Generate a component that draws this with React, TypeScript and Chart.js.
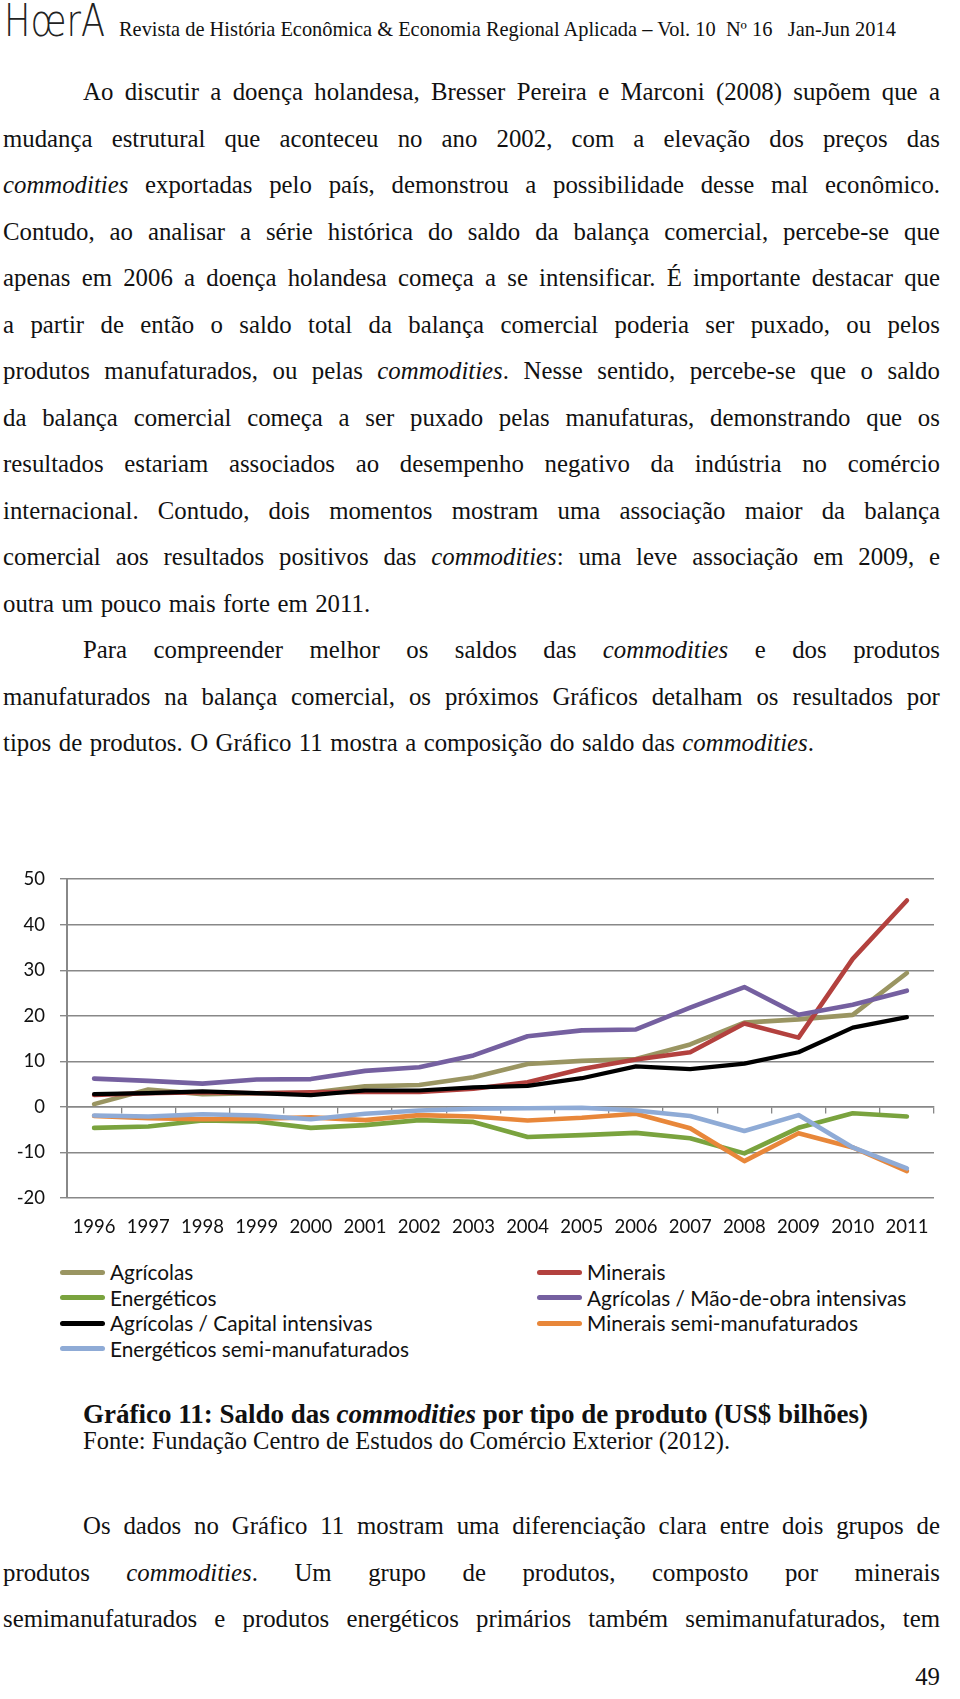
import React, { useEffect, useRef } from "react";
import { Chart, registerables } from "chart.js";

Chart.register(...registerables);

// ---------- DATA ----------
const years = ["1996", "1997", "1998", "1999", "2000", "2001", "2002", "2003", "2004", "2005", "2006", "2007", "2008", "2009", "2010", "2011"];

const agricolas = [0.6, 3.8, 2.8, 3.0, 3.1, 4.5, 4.8, 6.5, 9.4, 10.1, 10.5, 13.7, 18.5, 19.2, 20.2, 29.4];
const minerais = [2.6, 3.0, 3.2, 3.0, 3.2, 3.3, 3.3, 4.0, 5.4, 8.3, 10.4, 12.0, 18.3, 15.2, 32.5, 45.3];
const energeticos = [-4.6, -4.3, -3.0, -3.2, -4.6, -4.0, -2.9, -3.3, -6.6, -6.2, -5.7, -6.9, -10.2, -4.6, -1.4, -2.1];
const agricolasMaoDeObra = [6.2, 5.7, 5.1, 6.0, 6.1, 7.9, 8.7, 11.3, 15.5, 16.8, 17.0, 21.8, 26.3, 20.2, 22.4, 25.5];
const agricolasCapital = [2.8, 3.0, 3.4, 3.0, 2.6, 3.6, 3.6, 4.3, 4.6, 6.3, 8.9, 8.3, 9.5, 12.0, 17.4, 19.7];
const mineraisSemi = [-2.0, -2.5, -2.7, -2.6, -2.3, -2.9, -1.8, -2.1, -3.0, -2.4, -1.5, -4.7, -11.9, -5.8, -8.9, -14.1];
const energeticosSemi = [-1.9, -2.1, -1.6, -1.9, -2.7, -1.5, -0.8, -0.4, -0.3, -0.2, -0.8, -2.0, -5.3, -1.8, -8.9, -13.5];

const seriesNames = [
  "Agrícolas",
  "Minerais",
  "Energéticos",
  "Agrícolas / Mão-de-obra intensivas",
  "Agrícolas / Capital intensivas",
  "Minerais semi-manufaturados",
  "Energéticos semi-manufaturados",
];
const seriesData = [agricolas, minerais, energeticos, agricolasMaoDeObra, agricolasCapital, mineraisSemi, energeticosSemi];
const seriesColors = ["#9a9562", "#b3413e", "#7aa33e", "#7560a0", "#000000", "#e8873a", "#8fabd6"];

const yTicks = { min: -20, max: 50, step: 10 };

// ---------- TEXT ----------
const para1 = [
  "Ao discutir a doença holandesa, Bresser Pereira e Marconi (2008) supõem que a",
  "mudança estrutural que aconteceu no ano 2002, com a elevação dos preços das",
  "_commodities_ exportadas pelo país, demonstrou a possibilidade desse mal econômico.",
  "Contudo, ao analisar a série histórica do saldo da balança comercial, percebe-se que",
  "apenas em 2006 a doença holandesa começa a se intensificar. É importante destacar que",
  "a partir de então o saldo total da balança comercial poderia ser puxado, ou pelos",
  "produtos manufaturados, ou pelas _commodities_. Nesse sentido, percebe-se que o saldo",
  "da balança comercial começa a ser puxado pelas manufaturas, demonstrando que os",
  "resultados estariam associados ao desempenho negativo da indústria no comércio",
  "internacional. Contudo, dois momentos mostram uma associação maior da balança",
  "comercial aos resultados positivos das _commodities_: uma leve associação em 2009, e",
  "outra um pouco mais forte em 2011.",
];
const para2 = [
  "Para compreender melhor os saldos das _commodities_ e dos produtos",
  "manufaturados na balança comercial, os próximos Gráficos detalham os resultados por",
  "tipos de produtos. O Gráfico 11 mostra a composição do saldo das _commodities_.",
];
const para3 = [
  "Os dados no Gráfico 11 mostram uma diferenciação clara entre dois grupos de",
  "produtos _commodities_. Um grupo de produtos, composto por minerais",
  "semimanufaturados e produtos energéticos primários também semimanufaturados, tem",
];

const GRID = "#888888";
const TEXT_LEFT = 3;
const TEXT_RIGHT = 940;
const INDENT = 80;
const LINE_H = 46.5;
const BODY_SIZE = 24.8;
const SERIF = "'Liberation Serif', 'Times New Roman', serif";
const SANS = "Lato, 'Open Sans', sans-serif";

function renderWord(w: string, key: number) {
  const parts = w.split(/(_[^_]+_)/).filter((p) => p.length > 0);
  return (
    <span key={key}>
      {parts.map((p, i) =>
        p.startsWith("_") && p.endsWith("_") ? <i key={i}>{p.slice(1, -1)}</i> : <React.Fragment key={i}>{p}</React.Fragment>
      )}
    </span>
  );
}

function Paragraph({ lines, top, lastLeft }: { lines: string[]; top: number; lastLeft: boolean }) {
  return (
    <>
      {lines.map((line, i) => {
        const left = i === 0 ? TEXT_LEFT + INDENT : TEXT_LEFT;
        const justify = !(lastLeft && i === lines.length - 1);
        const words = line.split(" ");
        return (
          <div
            key={i}
            style={{
              position: "absolute",
              left,
              width: TEXT_RIGHT - left,
              top: top + i * LINE_H - LINE_H / 2,
              height: LINE_H,
              display: "flex",
              alignItems: "center",
              justifyContent: justify ? "space-between" : "flex-start",
              columnGap: justify ? 0 : 7.5,
              fontFamily: SERIF,
              fontSize: BODY_SIZE,
              color: "#111",
              whiteSpace: "nowrap",
            }}
          >
            {words.map((w, k) => renderWord(w, k))}
          </div>
        );
      })}
    </>
  );
}

function LineChart() {
  const ref = useRef<HTMLCanvasElement | null>(null);
  useEffect(() => {
    if (!ref.current) return;
    const font = { family: SANS, size: 18.5 };
    const chart = new Chart(ref.current, {
      type: "line",
      data: {
        labels: years,
        datasets: seriesData.map((d, i) => ({
          label: seriesNames[i],
          data: d,
          borderColor: seriesColors[i],
          backgroundColor: seriesColors[i],
          borderWidth: i === 4 ? 4.2 : 4.6,
          pointRadius: 0,
          tension: 0,
          borderJoinStyle: "round" as const,
          borderCapStyle: "round" as const,
          fill: false,
          order: seriesData.length - i,
        })),
      },
      options: {
        animation: false,
        responsive: true,
        maintainAspectRatio: false,
        layout: { padding: { left: 0, right: 26, top: 0, bottom: 15 } },
        plugins: { legend: { display: false }, tooltip: { enabled: false } },
        scales: {
          x: {
            type: "category",
            offset: true,
            grid: { display: false, drawTicks: false, tickLength: 0 },
            border: { display: false },
            ticks: { color: "#111", font, padding: 18, maxRotation: 0, autoSkip: false },
            afterFit: (s: any) => {
              s.height = 40;
            },
          },
          x2: {
            type: "category",
            axis: "x",
            position: { y: 0 },
            offset: true,
            grid: { drawOnChartArea: false, drawTicks: true, tickLength: 6, color: GRID, lineWidth: 1.3, offset: true },
            border: { display: true, color: GRID, width: 1.5 },
            ticks: { display: false },
          },
          y: {
            min: yTicks.min,
            max: yTicks.max,
            ticks: { stepSize: yTicks.step, color: "#111", font, padding: 15 },
            grid: { color: GRID, lineWidth: 1.4, tickLength: 7 },
            border: { color: GRID, width: 2 },
            afterFit: (s: any) => {
              s.width = 67;
            },
          },
        } as any,
      },
    });
    return () => chart.destroy();
  }, []);
  return (
    <div style={{ position: "absolute", left: 0, top: 853, width: 960, height: 400 }}>
      <canvas ref={ref} />
    </div>
  );
}

function Legend() {
  const rowsTop = 1272;
  const rowH = 25.5;
  const cols = [
    { sx: 60, tx: 110, idx: [0, 2, 4, 6] },
    { sx: 537, tx: 587, idx: [1, 3, 5] },
  ];
  return (
    <>
      {cols.map((c, ci) =>
        c.idx.map((si, r) => (
          <React.Fragment key={ci + "-" + r}>
            <div
              style={{
                position: "absolute",
                left: c.sx,
                top: rowsTop + r * rowH - 2.5,
                width: 45,
                height: 5,
                borderRadius: 2.5,
                background: seriesColors[si],
              }}
            />
            <div
              style={{
                position: "absolute",
                left: c.tx,
                top: rowsTop + r * rowH - 13,
                height: 26,
                lineHeight: "26px",
                fontFamily: SANS,
                fontSize: 20.8,
                color: "#111",
                whiteSpace: "nowrap",
              }}
            >
              {seriesNames[si]}
            </div>
          </React.Fragment>
        ))
      )}
    </>
  );
}

export default function App() {
  return (
    <div style={{ position: "absolute", left: 0, top: 0, width: 960, height: 1699, background: "#fff", overflow: "hidden" }}>
      {/* Header */}
      <div
        style={{
          position: "absolute",
          left: 4,
          top: -5,
          fontFamily: "'DejaVu Sans', sans-serif",
          fontWeight: 200,
          fontSize: 44,
          color: "#222",
          transform: "scaleX(0.8)",
          transformOrigin: "left top",
          whiteSpace: "nowrap",
        }}
      >
        HœrA
      </div>
      <div
        style={{
          position: "absolute",
          left: 119,
          top: 17,
          fontFamily: SERIF,
          fontSize: 20.4,
          color: "#111",
          whiteSpace: "pre",
          lineHeight: "24px",
        }}
      >
        {"Revista de História Econômica & Economia Regional Aplicada – Vol. 10  Nº 16   Jan-Jun 2014"}
      </div>

      <Paragraph lines={para1} top={92} lastLeft={true} />
      <Paragraph lines={para2} top={650} lastLeft={true} />

      <LineChart />
      <Legend />

      <div
        style={{
          position: "absolute",
          left: 83,
          top: 1414 - 16,
          lineHeight: "32px",
          fontFamily: SERIF,
          fontWeight: "bold",
          fontSize: 27,
          color: "#111",
          whiteSpace: "nowrap",
        }}
      >
        Gráfico 11: Saldo das <i>commodities</i> por tipo de produto (US$ bilhões)
      </div>
      <div
        style={{
          position: "absolute",
          left: 83,
          top: 1441 - 13,
          lineHeight: "26px",
          fontFamily: SERIF,
          fontSize: 24.5,
          color: "#111",
          whiteSpace: "nowrap",
        }}
      >
        Fonte: Fundação Centro de Estudos do Comércio Exterior (2012).
      </div>

      <Paragraph lines={para3} top={1526} lastLeft={false} />

      <div
        style={{
          position: "absolute",
          right: 960 - TEXT_RIGHT,
          top: 1677 - 15,
          lineHeight: "30px",
          fontFamily: SERIF,
          fontSize: BODY_SIZE,
          color: "#111",
        }}
      >
        49
      </div>
    </div>
  );
}
